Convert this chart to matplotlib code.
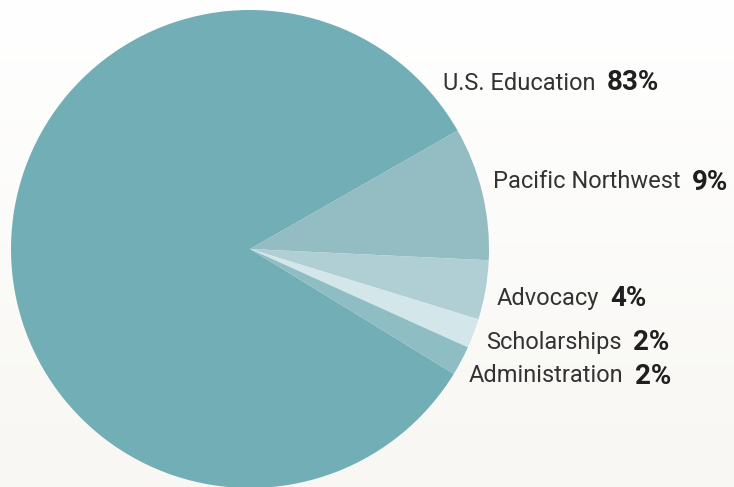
import numpy as np
import matplotlib
matplotlib.use("Agg")
import matplotlib.pyplot as plt
from matplotlib.colors import to_rgb

# data
categories = ['U.S. Education', 'Pacific Northwest', 'Advocacy', 'Scholarships', 'Administration']
shares = [83, 9, 4, 2, 2]
pct_labels = ['83%', '9%', '4%', '2%', '2%']

colors = ['#71aeb6', '#93bcc3', '#afcfd4', '#d3e6e9', '#8ebdc3']

# label anchor points in pixel space (left edge, vertical centre)
label_pos = [(443, 83), (493, 182), (497, 298), (486, 343), (469, 376)]

W, H = 734, 487
fig = plt.figure(figsize=(W / 100, H / 100), dpi=100)

# soft background gradient: white at top, warm off-white at bottom
bg = fig.add_axes([0, 0, 1, 1])
top = np.array(to_rgb('#ffffff'))
bot = np.array(to_rgb('#f8f7f3'))
t = np.linspace(0, 1, 256)[:, None]
grad = top * (1 - t) + bot * t
bg.imshow(grad[:, None, :].repeat(2, axis=1), aspect='auto', extent=[0, 1, 0, 1])
bg.axis('off')

ax = fig.add_axes([0, 0, 1, 1])
ax.pie(shares, colors=colors, startangle=-31.5, counterclock=False,
       center=(250, H - 249), radius=239, frame=False,
       wedgeprops=dict(linewidth=0))
ax.set_xlim(0, W)
ax.set_ylim(0, H)
ax.set_aspect('equal')
ax.axis('off')

for name, pct, (x, y) in zip(categories, pct_labels, label_pos):
    txt = ax.text(x, H - y, name, fontsize=17, family='Roboto',
                  color='#333333', ha='left', va='center')
    ax.annotate(pct, xy=(1, 0.5), xycoords=txt, xytext=(8, 0),
                textcoords='offset points', fontsize=20, family='Roboto',
                fontweight='bold', color='#1f1f1f', ha='left', va='center')

fig.savefig('out.png', dpi=100)
